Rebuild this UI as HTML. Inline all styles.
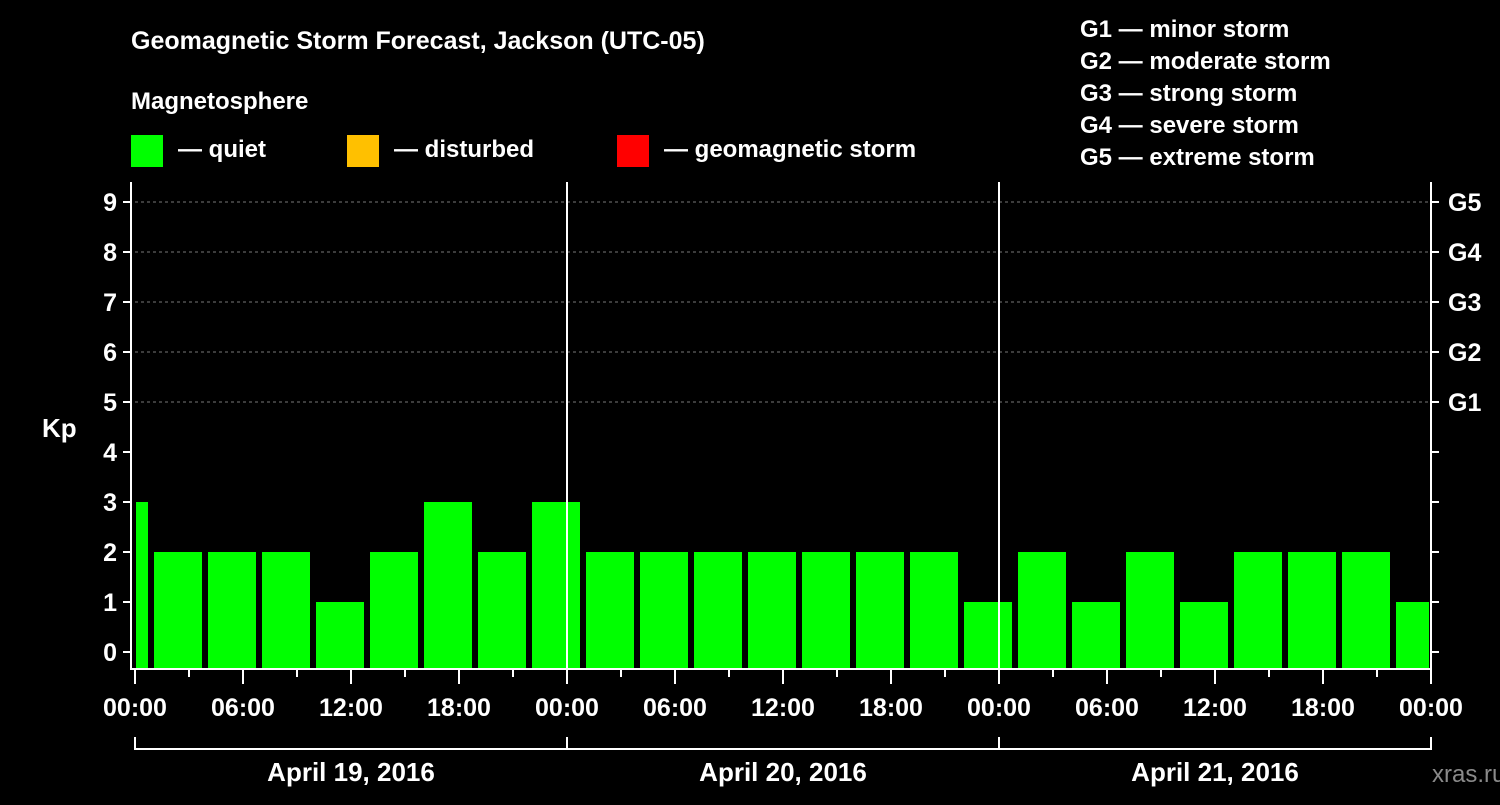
<!DOCTYPE html>
<html><head><meta charset="utf-8"><style>
body{margin:0;background:#000;width:1500px;height:800px;overflow:hidden}
svg text{font-family:"Liberation Sans",sans-serif;font-weight:bold;fill:#fff}
</style></head><body>
<svg id="c" width="1500" height="800">
<text x="131" y="49" font-size="25">Geomagnetic Storm Forecast, Jackson (UTC-05)</text>
<text x="131" y="109" font-size="24">Magnetosphere</text>
<g><rect x="131" y="135" width="32" height="32" fill="#00ff00"/><text x="178" y="157" font-size="24">— quiet</text></g>
<g><rect x="347" y="135" width="32" height="32" fill="#ffc000"/><text x="394" y="157" font-size="24">— disturbed</text></g>
<g><rect x="617" y="135" width="32" height="32" fill="#ff0000"/><text x="664" y="157" font-size="24">— geomagnetic storm</text></g>
<g font-size="24">
<text x="1080" y="37">G1 — minor storm</text><text x="1080" y="69">G2 — moderate storm</text><text x="1080" y="101">G3 — strong storm</text><text x="1080" y="133">G4 — severe storm</text><text x="1080" y="165">G5 — extreme storm</text></g>
<text x="42" y="437" font-size="26">Kp</text>
<text x="1432" y="782" font-size="24" fill="#888" style="fill:#8a8a8a;font-weight:normal">xras.ru</text>
<g id="plot"></g>
</svg>
<script>
const kpValues=[3,2,2,2,1,2,3,2,3,2,2,2,2,2,2,2,1,2,1,2,1,2,2,2,1];
const slotStartHours=[-2,1,4,7,10,13,16,19,22,25,28,31,34,37,40,43,46,49,52,55,58,61,64,67,70];
const dayLabels=["April 19, 2016","April 20, 2016","April 21, 2016"];
const timeTicks=["00:00","06:00","12:00","18:00"];
const gLabels=["G1","G2","G3","G4","G5"];
const NS="http://www.w3.org/2000/svg";
const g=document.getElementById('plot');
const X0=135,PXH=18,XEND=135+72*18,Y0=652,PXK=50,YB=668,YT=182;
const x=h=>X0+h*PXH, y=k=>Y0-k*PXK;
function mk(t,a){const e=document.createElementNS(NS,t);for(const k in a)e.setAttribute(k,a[k]);g.appendChild(e);return e;}
for(let k=5;k<=9;k++){const l=mk('line',{x1:X0,x2:XEND,y1:y(k),y2:y(k),stroke:'#777','stroke-dasharray':'3,3'});

}
kpValues.forEach((v,i)=>{let a=Math.max(x(slotStartHours[i])+1,x(0)+1),b=Math.min(x(slotStartHours[i]+3)-5,XEND-2);
const c=v>=5?'#ff0000':v>=4?'#ffc000':'#00ff00';
const r=mk('rect',{x:a,y:y(v),width:b-a,height:YB-y(v),fill:c});

});
for(let d=1;d<3;d++){const l=mk('line',{x1:x(24*d),x2:x(24*d),y1:YT,y2:YB,stroke:'#fff','stroke-width':2});

}
const ax=mk('path',{d:`M131 ${YT}V${YB+1}H${XEND}V${YT}`,stroke:'#fff','stroke-width':2,fill:'none'});


for(let k=0;k<=9;k++){mk('line',{x1:123,x2:131,y1:y(k),y2:y(k),stroke:'#fff','stroke-width':2});
mk('line',{x1:XEND,x2:XEND+8,y1:y(k),y2:y(k),stroke:'#fff','stroke-width':2});
const t=mk('text',{x:117,y:y(k)+9,'font-size':25,'text-anchor':'end'});t.textContent=k;

}
gLabels.forEach((s,i)=>{const t=mk('text',{x:1448,y:y(5+i)+9,'font-size':25});t.textContent=s;

});
for(let h=0;h<=72;h+=3){mk('line',{x1:x(h),x2:x(h),y1:YB+2,y2:h%6==0?YB+16:YB+9,stroke:'#fff','stroke-width':2});
if(h%6==0){const t=mk('text',{x:x(h),y:716,'font-size':25,'text-anchor':'middle'});t.textContent=timeTicks[(h%24)/6];

}}
mk('path',{d:`M${x(0)} 737V749H${XEND}V737M${x(24)} 737V749M${x(48)} 737V749`,stroke:'#fff','stroke-width':2,fill:'none'});
dayLabels.forEach((s,i)=>{const t=mk('text',{x:x(24*i+12),y:781,'font-size':26,'text-anchor':'middle'});t.textContent=s;

});
</script>
</body></html>
